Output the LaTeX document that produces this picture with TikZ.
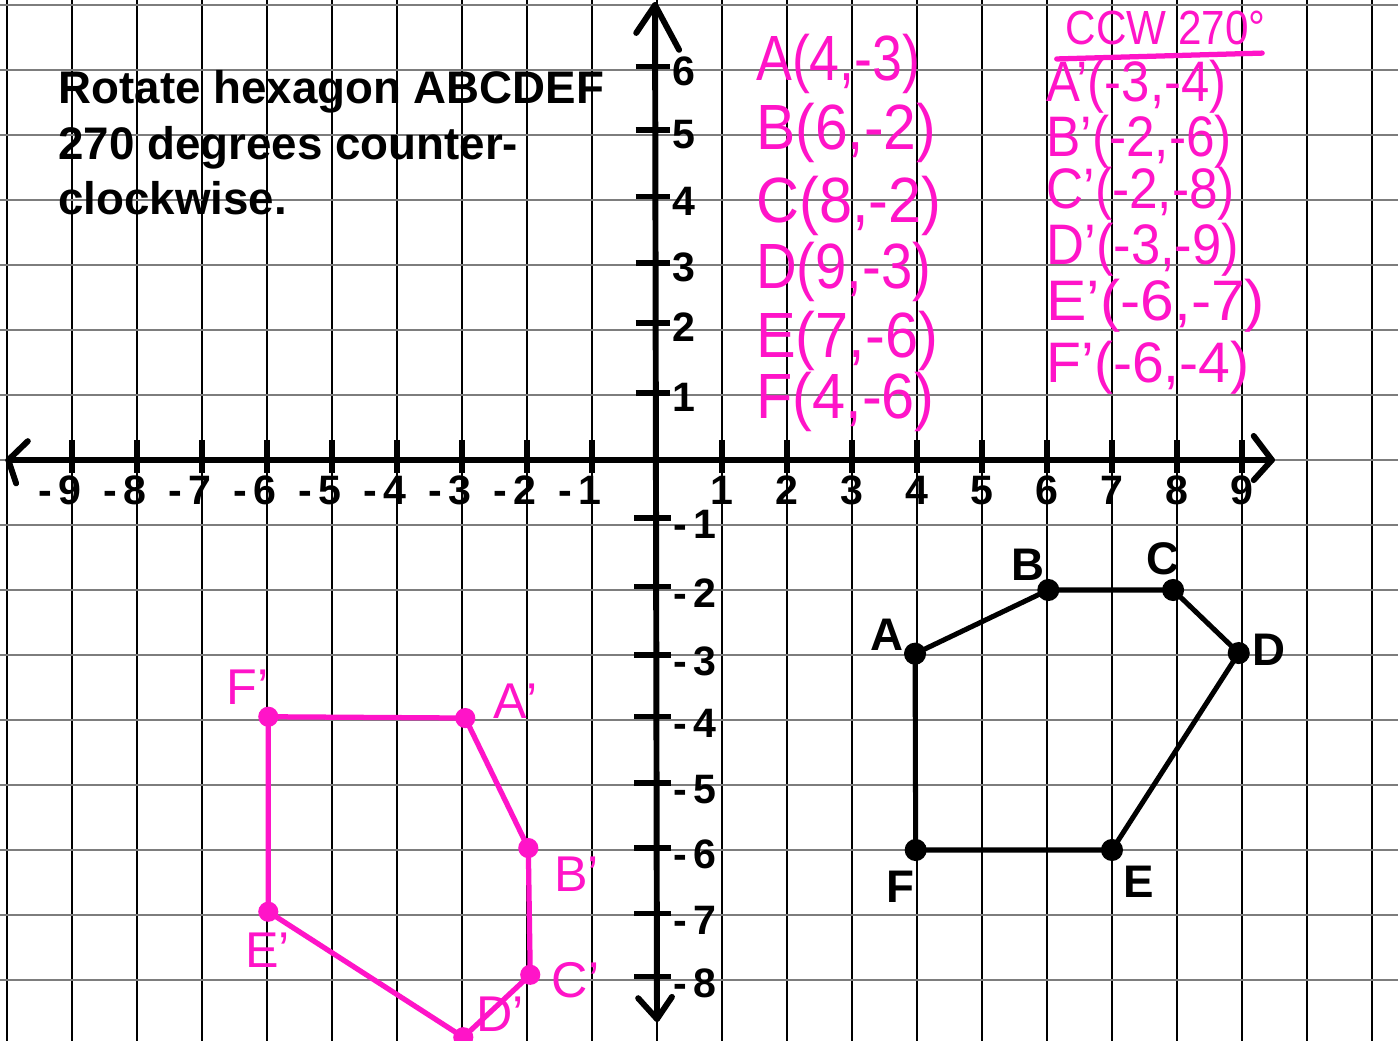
\documentclass[tikz,border=0pt]{standalone}
\usepackage{fontspec}
\usepackage{graphicx}
\setmainfont{Liberation Sans}
\definecolor{hotpink}{RGB}{255,20,200}
\definecolor{gridgray}{RGB}{125,125,125}
\newcommand\hx[2]{\scalebox{#1}[1]{#2}}
\begin{document}
\begin{tikzpicture}[x=1cm,y=1cm,
  gridv/.style={black, line width=0.45pt},
  gridh/.style={gridgray, line width=0.8pt},
  axis/.style={black, line width=2.6pt, line cap=round, line join=round},
  tickmark/.style={black, line width=2.4pt},
  axlab/.style={font=\fontsize{18}{18}\selectfont\bfseries, inner sep=0pt},
  ptlab/.style={font=\fontsize{20}{20}\selectfont\bfseries, inner sep=0pt},
  title/.style={font=\fontsize{20}{24}\selectfont\bfseries, inner sep=0pt, anchor=base west},
  edge/.style={black, line width=2.2pt, line join=round},
  pedge/.style={hotpink, line width=2.3pt, line cap=round, line join=round},
  bdot/.style={circle, fill=black, inner sep=0pt, minimum size=0.34cm},
  pdot/.style={circle, fill=hotpink, inner sep=0pt, minimum size=0.31cm},
  plab/.style={text=hotpink, inner sep=0pt, font=\fontsize{22}{22}\selectfont},
  plist/.style={text=hotpink, inner sep=0pt, anchor=west, font=\fontsize{28}{28}\selectfont},
  plistb/.style={text=hotpink, inner sep=0pt, anchor=west, font=\fontsize{25}{25}\selectfont},
]
\useasboundingbox (-10.108,-8.938) rectangle (11.4,7.077);
\fill[white] (-10.108,-8.938) rectangle (11.4,7.077);
% grid
\foreach \x in {-10,...,11} \draw[gridv] (\x,-8.938) -- (\x,7.077);
\foreach \y in {-8,...,7} \draw[gridh] (-10.108,\y) -- (11.4,\y);
% axes
\coordinate (xl) at (-9.98,0);
\coordinate (xr) at (9.46,0);
\coordinate (yt) at (-0.03,7.0);
\coordinate (yb) at (0,-8.6);
\draw[axis] (xl) -- (xr);
\draw[axis] (yt) -- (yb);
\draw[axis] (xl) ++(0.3,0.29) -- (xl) -- ++(0.12,-0.36);
\draw[axis] (xr) ++(-0.28,0.37) -- (xr) -- ++(-0.28,-0.31);
\draw[axis] (yt) ++(-0.29,-0.43) -- (yt) -- ++(0.37,-0.69);
\draw[axis] (yb) ++(-0.29,0.32) -- (yb) -- ++(0.23,0.34);
% x ticks and labels
\foreach \x in {1,...,9} {
  \draw[tickmark] (\x,0.31) -- (\x,-0.2);
  \draw[tickmark] (-\x,0.31) -- (-\x,-0.2);
  \node[axlab] (xp\x) at (\x,-0.47) {\x};
  \node[axlab] (xn\x) at (-\x-0.03,-0.47) {\llap{-\kern3pt}\x};
}
% y ticks and labels
\foreach \v/\p in {6/6.05,5/5.08,4/4.05,3/3.03,2/2.11,1/1.03} {
  \draw[tickmark] (-0.33,\p) -- (0.2,\p);
  \node[axlab] (yp\v) at (0.42,\p-0.07) {\v};
}
\foreach \v/\p in {1/-0.89,2/-1.95,3/-3.0,4/-3.95,5/-4.97,6/-5.97,7/-6.98,8/-7.95} {
  \draw[tickmark] (-0.35,\p) -- (0.22,\p);
  \node[axlab] (yn\v) at (0.74,\p-0.1) {\llap{-\kern3pt}\v};
}
% title
\node[title] (t1) at (-9.215,5.49) {Rotate hexagon ABCDEF};
\node[title] (t2) at (-9.215,4.63) {270 degrees counter-};
\node[title] (t3) at (-9.215,3.77) {clockwise.};
% black hexagon
\coordinate (A) at (3.97,-2.98);
\coordinate (B) at (6.02,-2.0);
\coordinate (C) at (7.94,-2.0);
\coordinate (D) at (8.95,-2.97);
\coordinate (E) at (7.0,-6.0);
\coordinate (F) at (3.98,-6.0);
\draw[edge] (A) -- (B) -- (C) -- (D) -- (E) -- (F) -- cycle;
\foreach \n in {A,B,C,D,E,F} \node[bdot] (dot\n) at (\n) {};
\node[ptlab] (lA) at (3.54,-2.69) {A};
\node[ptlab] (lB) at (5.71,-1.605) {B};
\node[ptlab] (lC) at (7.78,-1.52) {C};
\node[ptlab] (lD) at (9.42,-2.92) {D};
\node[ptlab] (lE) at (7.415,-6.49) {E};
\node[ptlab] (lF) at (3.75,-6.57) {F};
% pink hexagon
\coordinate (Ap) at (-2.95,-3.97);
\coordinate (Bp) at (-1.98,-5.97);
\coordinate (Cp) at (-1.95,-7.92);
\coordinate (Dp) at (-2.98,-8.88);
\coordinate (Ep) at (-5.98,-6.95);
\coordinate (Fp) at (-5.98,-3.95);
\draw[pedge] (Ap) -- (Bp) -- (Cp) -- (Dp) -- (Ep) -- (Fp) -- cycle;
\foreach \n in {Ap,Bp,Cp,Dp,Ep,Fp} \node[pdot] (dot\n) at (\n) {};
\node[plab] (lFp) at (-6.385,-3.49) {F\rlap{’}};
\node[plab] (lAp) at (-2.26,-3.71) {A\rlap{’}};
\node[plab] (lBp) at (-1.32,-6.37) {B\rlap{’}};
\node[plab] (lEp) at (-6.08,-7.54) {E\rlap{’}};
\node[plab] (lCp) at (-1.34,-8.0) {C\rlap{’}};
\node[plab] (lDp) at (-2.5,-8.52) {D\rlap{’}};
% pink coordinate lists
\node[plist] (pA) at (1.52,6.09) {\hx{0.84}{A(4,-3)}};
\node[plist] (pB) at (1.52,5.03) {\hx{0.92}{B(6,-2)}};
\node[plist] (pC) at (1.52,3.91) {\hx{0.93}{C(8,-2)}};
\node[plist] (pD) at (1.52,2.89) {\hx{0.88}{D(9,-3)}};
\node[plist] (pE) at (1.52,1.83) {\hx{0.93}{E(7,-6)}};
\node[plist] (pF) at (1.52,0.89) {\hx{0.93}{F(4,-6)}};
\node[text=hotpink, anchor=base west, inner sep=0pt, font=\fontsize{21}{21}\selectfont] (hdr) at (6.28,6.385) {\hx{0.88}{CCW 270°}};
\coordinate (u1) at (6.15,6.17);
\coordinate (u2) at (9.31,6.26);
\draw[pedge] (u1) -- (u2);
\node[plistb] (qA) at (5.985,5.75) {\hx{0.89}{A’(-3,-4)}};
\node[plistb] (qB) at (5.985,4.89) {\hx{0.9}{B’(-2,-6)}};
\node[plistb] (qC) at (5.985,4.09) {\hx{0.9}{C’(-2,-8)}};
\node[plistb] (qD) at (5.985,3.23) {\hx{0.92}{D’(-3,-9)}};
\node[plistb] (qE) at (5.985,2.38) {\hx{1.06}{E’(-6,-7)}};
\node[plistb] (qF) at (5.985,1.415) {\hx{1.0}{F’(-6,-4)}};
\end{tikzpicture}
\end{document}
